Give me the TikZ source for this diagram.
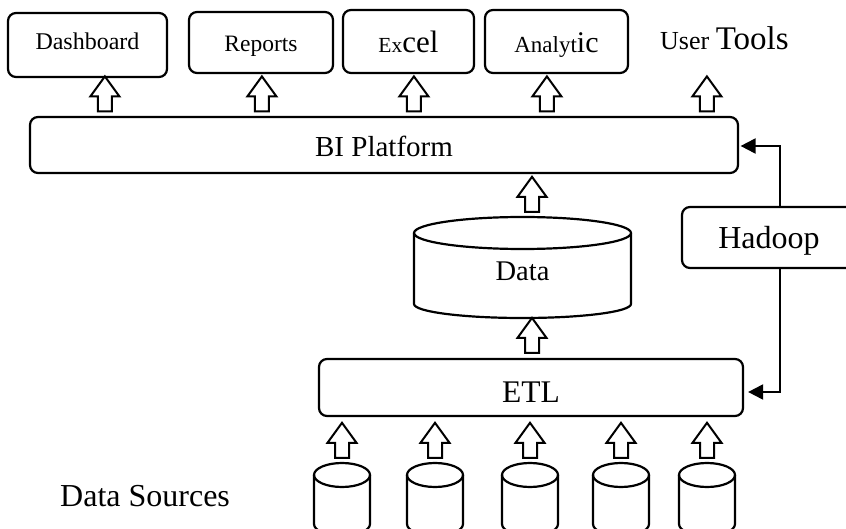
\documentclass[tikz,border=0pt]{standalone}
\usepackage{fontspec}
\setmainfont{Liberation Serif}
\usetikzlibrary{arrows.meta,calc}

\newcommand{\fs}[1]{\fontsize{#1}{#1}\selectfont}

\tikzset{
  box/.style={draw, rounded corners=8pt, line width=2.2pt, inner sep=0pt,
              text depth=0pt, align=center},
  spot/.style={inner sep=0pt, minimum width=#1},
  conn/.style={line width=2pt, -{Triangle[length=15pt,width=15pt]}},
  cyl/.style={line width=2.2pt},
  pics/blockup/.style={code={
    \draw[line width=2pt, fill=white]
      (-7pt,0pt) -- (-7pt,15pt) -- (-14.5pt,15pt) -- (0pt,35pt)
      -- (14.5pt,15pt) -- (7pt,15pt) -- (7pt,0pt) -- cycle;
  }}
}

\begin{document}
\begin{tikzpicture}[x=1pt, y=1pt]
  \clip (0,0) rectangle (846,-529);
  \fill[white] (0,0) rectangle (846,-529);

  % user tools row
  \node[box, minimum width=159, minimum height=64, text height=10pt] (dash)
    at (87.5,-45) {\fs{24}Dashboard};
  \node[box, minimum width=144, minimum height=61, text height=19pt] (rep)
    at (261,-42.5) {\fs{23.5}Reports};
  \node[box, minimum width=131, minimum height=63, text height=23pt] (xls)
    at (408.5,-41.5) {\fs{21.5}Ex\fs{31}cel};
  \node[box, minimum width=143, minimum height=63, text height=23pt] (ana)
    at (556.5,-41.5) {\fs{23}Analyt\fs{30}ic};
  \node[anchor=base west, inner sep=0pt] (tools) at (660,-50)
    {\fs{26}User \fs{33}Tools};

  % platform
  \node[box, minimum width=708, minimum height=56, text height=23.4pt] (bi)
    at (384,-145) {\fs{29}BI Platform};

  % warehouse cylinder
  \draw[cyl] (414,-233) -- (414,-304)
    arc[start angle=180, end angle=360, x radius=108.5, y radius=14]
    -- (631,-233);
  \draw[cyl] (522.5,-233) ellipse [x radius=108.5, y radius=16];
  \node[spot=217, minimum height=101, text height=27pt, text depth=0pt] (data)
    at (522.5,-267.5) {\fs{28.5}Data};

  % ETL and Hadoop
  \node[box, minimum width=424, minimum height=57, text height=29pt] (etl)
    at (531,-387.5) {\fs{31.5}ETL};
  \node[box, minimum width=174, minimum height=61, text height=23pt] (hdp)
    at (769,-237.5) {\fs{32}Hadoop};

  % source cylinders
  \foreach \cx [count=\i] in {342,435,530,621,707} {
    \draw[cyl] (\cx-28,-475) -- (\cx-28,-524)
      arc[start angle=180, end angle=360, x radius=28, y radius=12]
      -- (\cx+28,-475);
    \draw[cyl] (\cx,-475) ellipse [x radius=28, y radius=12];
    \node[spot=56, minimum height=66] (src\i) at (\cx,-496) {};
  }
  \node[anchor=base west, inner sep=0pt] (srclbl) at (60,-506)
    {\fs{32}Data Sources};

  % block arrows
  \foreach \dx in {76,233,385,518,678}
    \pic at ($(bi.north west)+(\dx,4.5)$) {blockup};
  \pic at ($(data.north)+(9.5,5)$) {blockup};
  \pic at ($(etl.north)+(1,5)$) {blockup};
  \foreach \i in {1,...,5}
    \pic at ($(src\i.north)+(0,5)$) {blockup};

  % Hadoop feeds
  \coordinate (hx) at (780,0);
  \draw[conn, shorten >=1.5pt] (hdp.north -| hx) |- ([yshift=-1pt]bi.east);
  \draw[conn, shorten >=4pt] (hdp.south -| hx) |- ([yshift=-4.5pt]etl.east);
\end{tikzpicture}
\end{document}
